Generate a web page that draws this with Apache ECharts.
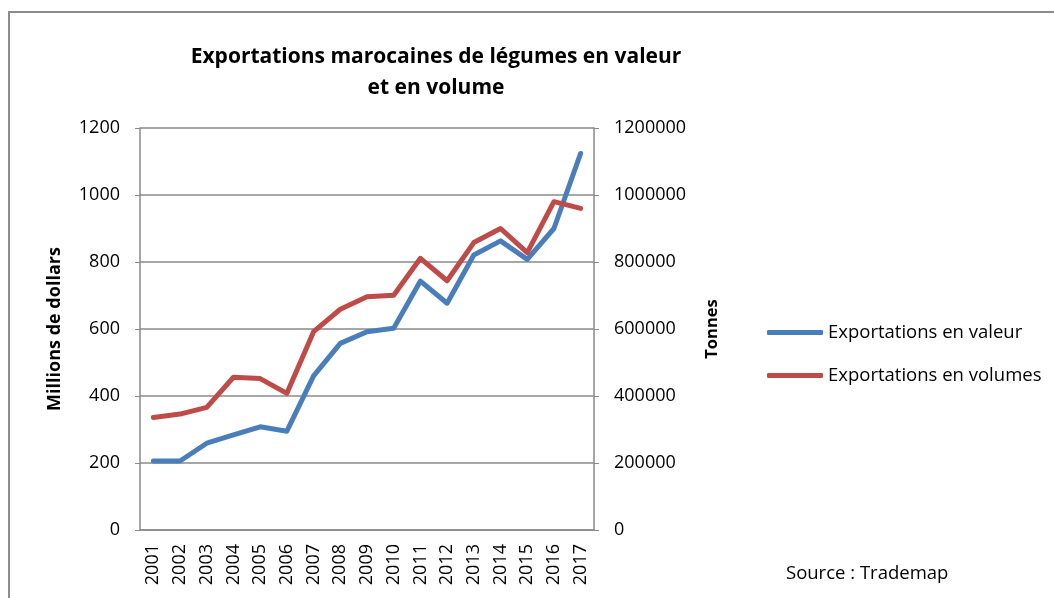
<!DOCTYPE html>
<html>
<head>
<meta charset="utf-8">
<script src="https://cdn.jsdelivr.net/npm/echarts@6/dist/echarts.min.js"></script>
<style>
  html, body { margin: 0; padding: 0; background: #fff; }
  #chart { width: 1054px; height: 598px; }
</style>
</head>
<body>
<div id="chart"></div>
<script>
// Years on the category axis
const years = ['2001','2002','2003','2004','2005','2006','2007','2008','2009',
               '2010','2011','2012','2013','2014','2015','2016','2017'];

// Export value, millions of dollars (left axis)
const valeur = [206, 206, 259, 284, 308, 295, 460, 557, 592, 602,
                743, 677, 821, 863, 808, 900, 1124];

// Export volume, tonnes (right axis)
const volumes = [336000, 346000, 366000, 456000, 452000, 408000, 592000, 659000, 696000,
                 701000, 811000, 744000, 858000, 900000, 828000, 980000, 960000];

const leftTicks = { min: 0, max: 1200, interval: 200 };
const rightTicks = { min: 0, max: 1200000, interval: 200000 };

const seriesNames = ['Exportations en valeur', 'Exportations en volumes'];

const FONT = '"Open Sans", "Noto Sans", sans-serif';
const GRID_GREY = '#8a8a8a';
const BLUE = '#4a7ebb';
const RED = '#be4b48';

// plain integers, no thousands separators
const plain = v => String(v);

const chart = echarts.init(document.getElementById('chart'));

chart.setOption({
  backgroundColor: '#ffffff',
  animation: false,
  title: {
    text: 'Exportations marocaines de légumes en valeur\net en volume',
    left: 431,
    top: 37,
    textAlign: 'center',
    textStyle: {
      fontFamily: FONT,
      fontSize: 21,
      fontWeight: 'bold',
      color: '#000',
      lineHeight: 31
    }
  },
  legend: {
    orient: 'vertical',
    left: 762,
    top: 318,
    icon: 'roundRect',
    itemWidth: 56,
    itemHeight: 5,
    itemGap: 24,
    textStyle: { fontFamily: FONT, fontSize: 18.5, color: '#000', lineHeight: 18 },
    data: seriesNames
  },
  grid: { left: 140, right: 460, top: 128, bottom: 68 },
  xAxis: {
    type: 'category',
    data: years,
    boundaryGap: true,
    axisLine: { lineStyle: { color: GRID_GREY, width: 1.5 } },
    axisTick: { show: false },
    axisLabel: {
      rotate: 90,
      margin: 14,
      fontFamily: FONT,
      fontSize: 18,
      color: '#000'
    }
  },
  yAxis: [
    {
      type: 'value',
      min: leftTicks.min,
      max: leftTicks.max,
      interval: leftTicks.interval,
      name: 'Millions de dollars',
      nameLocation: 'middle',
      nameGap: 76,
      nameRotate: 90,
      nameTextStyle: { fontFamily: FONT, fontSize: 18, fontWeight: 'bold', color: '#000' },
      axisLine: { show: true, lineStyle: { color: GRID_GREY, width: 1.5 } },
      axisTick: { show: true, length: 5, lineStyle: { color: GRID_GREY } },
      axisLabel: { margin: 20, fontFamily: FONT, fontSize: 18, color: '#000', formatter: plain },
      splitLine: { show: true, lineStyle: { color: GRID_GREY, width: 1.5 } }
    },
    {
      type: 'value',
      position: 'right',
      min: rightTicks.min,
      max: rightTicks.max,
      interval: rightTicks.interval,
      name: 'Tonnes',
      nameLocation: 'middle',
      nameGap: 110,
      nameRotate: 90,
      nameTextStyle: { fontFamily: FONT, fontSize: 16.5, fontWeight: 'bold', color: '#000' },
      axisLine: { show: true, lineStyle: { color: GRID_GREY, width: 1.5 } },
      axisTick: { show: true, length: 5, lineStyle: { color: GRID_GREY } },
      axisLabel: { margin: 20, fontFamily: FONT, fontSize: 18, color: '#000', formatter: plain },
      splitLine: { show: false }
    }
  ],
  series: [
    {
      name: seriesNames[0],
      type: 'line',
      yAxisIndex: 0,
      data: valeur,
      symbol: 'none',
      lineStyle: { color: BLUE, width: 5, cap: 'round', join: 'round' },
      itemStyle: { color: BLUE }
    },
    {
      name: seriesNames[1],
      type: 'line',
      yAxisIndex: 1,
      data: volumes,
      symbol: 'none',
      lineStyle: { color: RED, width: 5, cap: 'round', join: 'round' },
      itemStyle: { color: RED }
    }
  ],
  graphic: [
    {
      type: 'rect',
      shape: { x: 9, y: 12, width: 1100, height: 700 },
      style: { fill: 'none', stroke: '#8c8c8c', lineWidth: 2 },
      silent: true
    },
    {
      type: 'text',
      left: 786,
      top: 564,
      style: { text: 'Source : Trademap', fontFamily: FONT, fontSize: 18.5, fill: '#000' }
    }
  ]
});
</script>
</body>
</html>
